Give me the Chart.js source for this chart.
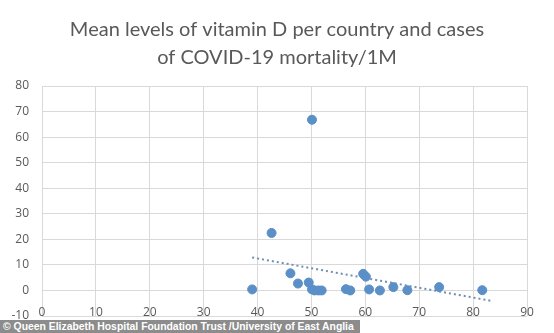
<!DOCTYPE html>
<html>
<head>
<meta charset="utf-8">
<script src="https://cdn.jsdelivr.net/npm/chart.js@4.4.1/dist/chart.umd.min.js"></script>
<style>
  html, body { margin: 0; padding: 0; background: #fff; }
  #wrap { position: relative; width: 554px; height: 333px; }
  #credit {
    position: absolute; left: 0; top: 320px; height: 13px; width: 360px;
    background: #8c8c8c; color: #fff; font: bold 10.4px "Liberation Sans", Arial, sans-serif;
    line-height: 13px; padding-left: 3px; box-sizing: border-box; white-space: nowrap;
  }
</style>
</head>
<body>
<div id="wrap">
  <canvas id="chart" width="554" height="333"></canvas>
  <div id="credit">© Queen Elizabeth Hospital Foundation Trust /University of East Anglia</div>
</div>
<script>
// Datos
const vitaminD = [39.0, 42.6, 46.1, 47.5, 49.5, 50.1, 50.1, 50.6, 51.3, 51.9, 56.4, 57.2, 59.6, 60.1, 60.7, 62.7, 65.2, 67.8, 73.7, 81.7];
const mortality = [0.4, 22.5, 6.7, 2.7, 3.1, 66.8, 0.4, 0, 0, 0, 0.5, 0, 6.5, 5.4, 0.4, 0, 1.3, 0.1, 1.3, 0.1];
const trendX = [39, 83.7];
const trendY = [12.9, -4.2];
const titleLines = ['Mean levels of vitamin D per country and cases', 'of COVID-19 mortality/1M'];

const gridColor = '#d9d9d9';
const textColor = '#595959';

const ctx = document.getElementById('chart').getContext('2d');
new Chart(ctx, {
    type: 'scatter',
    data: {
        datasets: [{
            data: vitaminD.map((x, i) => ({ x: x, y: mortality[i] })),
            backgroundColor: '#5b8fc7',
            borderColor: '#5b8fc7',
            pointRadius: 4.5,
            pointHoverRadius: 4.5
        }, {
            type: 'line',
            data: trendX.map((x, i) => ({ x: x, y: trendY[i] })),
            borderColor: '#6f8fb3',
            borderWidth: 2,
            borderDash: [2, 3],
            pointRadius: 0,
            fill: false
        }]
    },
    options: {
        responsive: false,
        animation: false,
        layout: { padding: { left: 0, right: 0, top: 0, bottom: 17 } },
        scales: {
            x: {
                type: 'linear',
                min: 0,
                max: 90,
                position: { y: 0 },
                ticks: { stepSize: 10, color: textColor, padding: 15, font: { family: 'Open Sans', size: 12 } },
                grid: { color: gridColor, drawTicks: false },
                border: { color: gridColor }
            },
            y: {
                min: -10,
                max: 80,
                ticks: { stepSize: 10, color: textColor, padding: 13, font: { family: 'Open Sans', size: 12 } },
                grid: { color: gridColor, drawTicks: false },
                border: { display: false },
                afterFit: s => { s.width = 42; s.paddingTop = 0; s.paddingBottom = 0; }
            },
            // espacio a la derecha para que el título quede centrado
            y2: {
                position: 'right',
                min: -10,
                max: 80,
                ticks: { display: false },
                grid: { display: false, drawTicks: false },
                border: { display: false },
                afterFit: s => { s.width = 27; }
            }
        },
        plugins: {
            legend: { display: false },
            tooltip: { enabled: false },
            title: {
                display: true,
                text: titleLines,
                color: textColor,
                font: { family: 'Lato', size: 20, weight: 'normal', lineHeight: 1.4 },
                padding: { top: 16, bottom: 14 }
            }
        }
    }
});
</script>
</body>
</html>
